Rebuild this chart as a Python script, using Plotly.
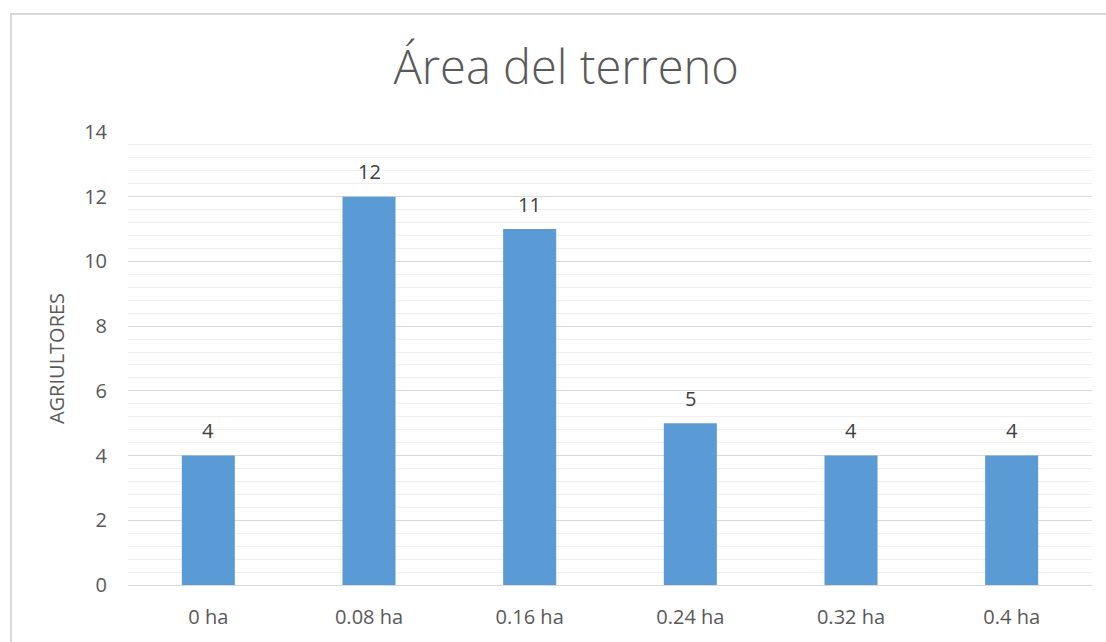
import plotly.graph_objects as go

# Datos: área del terreno por agricultor
categorias = ["0 ha", "0.08 ha", "0.16 ha", "0.24 ha", "0.32 ha", "0.4 ha"]
agricultores = [4, 12, 11, 5, 4, 4]
ticks_y = [0, 2, 4, 6, 8, 10, 12, 14]

W, H = 1106, 642
L, R, T, B = 128, 14, 132, 53
pw, ph = W - L - R, H - T - B

fig = go.Figure(
    go.Bar(
        x=categorias,
        y=agricultores,
        marker=dict(color="#5B9BD5", line=dict(width=0)),
        width=0.33,
        hoverinfo="x+y",
    )
)

# Etiquetas de valor sobre cada barra
for cat, val in zip(categorias, agricultores):
    fig.add_annotation(
        x=cat,
        y=val,
        text=str(val),
        showarrow=False,
        yanchor="middle",
        yshift=25,
        font=dict(family="Open Sans", size=20, color="#404040"),
    )

fig.update_layout(
    width=W,
    height=H,
    margin=dict(l=L, r=R, t=T, b=B),
    paper_bgcolor="white",
    plot_bgcolor="white",
    showlegend=False,
    title=dict(
        text="Área del terreno",
        x=0.512,
        xanchor="center",
        y=1 - 68 / H,
        yanchor="middle",
        font=dict(family="Open Sans", size=47, color="#595959", weight=300),
    ),
    font=dict(family="Open Sans", color="#595959"),
)

fig.update_xaxes(
    showgrid=False,
    showline=False,
    ticks="",
    tickfont=dict(size=20, color="#595959"),
    ticklabelstandoff=18,
)

fig.update_yaxes(
    range=[0, 14],
    tickvals=ticks_y,
    showgrid=True,
    gridcolor="#D9D9D9",
    gridwidth=1,
    zeroline=True,
    zerolinecolor="#D9D9D9",
    zerolinewidth=1,
    minor=dict(dtick=0.4, showgrid=True, gridcolor="#EFEFEF", gridwidth=1),
    tickfont=dict(size=20, color="#595959"),
    ticklabelstandoff=20,
    title=dict(text="AGRIULTORES", font=dict(size=20, color="#595959"), standoff=14),
)

# Marco del área del gráfico
fig.add_shape(
    type="rect",
    xref="paper",
    yref="paper",
    x0=(11 - L) / pw,
    x1=(W + 5 - L) / pw,
    y0=1 + (T - 13) / ph,
    y1=-(B + 10) / ph,
    line=dict(color="#D9D9D9", width=2),
    fillcolor="rgba(0,0,0,0)",
    layer="below",
)

fig.write_html("out.html")
